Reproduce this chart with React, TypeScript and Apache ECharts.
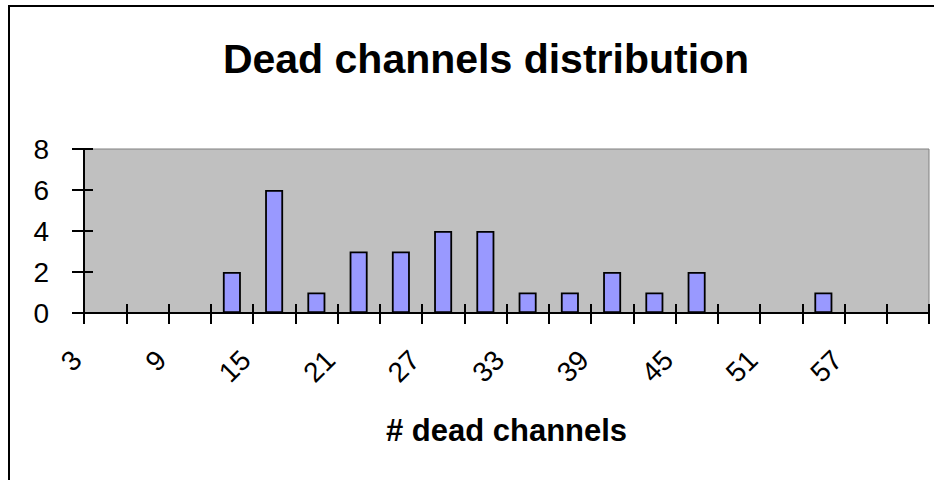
import React, { useEffect, useRef } from 'react';
import * as echarts from 'echarts';

const categories = ['3', '6', '9', '12', '15', '18', '21', '24', '27', '30', '33', '36', '39', '42', '45', '48', '51', '54', '57', '60'];
const counts = [0, 0, 0, 2, 6, 1, 3, 3, 4, 4, 1, 1, 2, 1, 2, 0, 0, 1, 0, 0];
const yMin = 0;
const yMax = 8;
const yStep = 2;
const titleText = 'Dead channels distribution';
const xName = '# dead channels';

const FONT = '"Liberation Sans", Arial, sans-serif';

export default function App() {
  const ref = useRef<HTMLDivElement>(null);
  useEffect(() => {
    document.body.style.margin = '0';
    const chart = echarts.init(ref.current!, null, { renderer: 'svg' });
    chart.setOption({
      animation: false,
      backgroundColor: '#ffffff',
      title: {
        text: titleText,
        left: 481,
        textAlign: 'center',
        top: 33,
        textStyle: { fontFamily: FONT, fontSize: 41, fontWeight: 'bold', color: '#000' },
      },
      graphic: [
        {
          type: 'rect',
          shape: { x: 9, y: 6, width: 1000, height: 1000 },
          style: { fill: 'none', stroke: '#000', lineWidth: 2 },
          silent: true,
        },
      ],
      grid: {
        left: 84,
        top: 149,
        right: 5,
        bottom: 167,
        containLabel: false,
        show: true,
        backgroundColor: '#c0c0c0',
        borderColor: '#808080',
        borderWidth: 1,
      },
      xAxis: [
        {
          type: 'category',
          data: categories,
          position: 'bottom',
          boundaryGap: true,
          axisLine: { show: true, lineStyle: { color: '#000', width: 2 } },
          axisTick: { show: true, interval: 0, length: 11, inside: false, lineStyle: { color: '#000', width: 2 } },
          axisLabel: {
            show: true,
            interval: 1,
            rotate: 45,
            margin: 14,
            padding: [0, 40, 0, 0],
            fontFamily: FONT,
            fontSize: 28,
            color: '#000',
          },
          splitLine: { show: false },
          name: xName,
          nameLocation: 'middle',
          nameGap: 102,
          nameMoveOverlap: false,
          nameTextStyle: { fontFamily: FONT, fontSize: 31, fontWeight: 'bold', color: '#000' },
        },
        {
          type: 'category',
          data: categories,
          position: 'bottom',
          boundaryGap: true,
          axisLine: { show: false },
          axisTick: { show: true, interval: 0, length: 9, inside: true, lineStyle: { color: '#000', width: 2 } },
          axisLabel: { show: false },
          splitLine: { show: false },
        },
      ],
      yAxis: [
        {
          type: 'value',
          min: yMin,
          max: yMax,
          interval: yStep,
          position: 'left',
          axisLine: { show: true, lineStyle: { color: '#000', width: 2 } },
          axisTick: { show: true, length: 12, inside: false, lineStyle: { color: '#000', width: 2 } },
          axisLabel: { show: true, margin: 35, fontFamily: FONT, fontSize: 28, color: '#000' },
          splitLine: { show: false },
        },
        {
          type: 'value',
          min: yMin,
          max: yMax,
          interval: yStep,
          position: 'left',
          axisLine: { show: false },
          axisTick: { show: true, length: 9, inside: true, lineStyle: { color: '#000', width: 2 } },
          axisLabel: { show: false },
          splitLine: { show: false },
        },
      ],
      series: [
        {
          type: 'bar',
          data: counts,
          xAxisIndex: 0,
          yAxisIndex: 0,
          barWidth: 18,
          itemStyle: { color: '#9999ff', borderColor: '#000', borderWidth: 1.8 },
        },
      ],
    });
    return () => chart.dispose();
  }, []);
  return <div ref={ref} style={{ width: 934, height: 480 }} />;
}
